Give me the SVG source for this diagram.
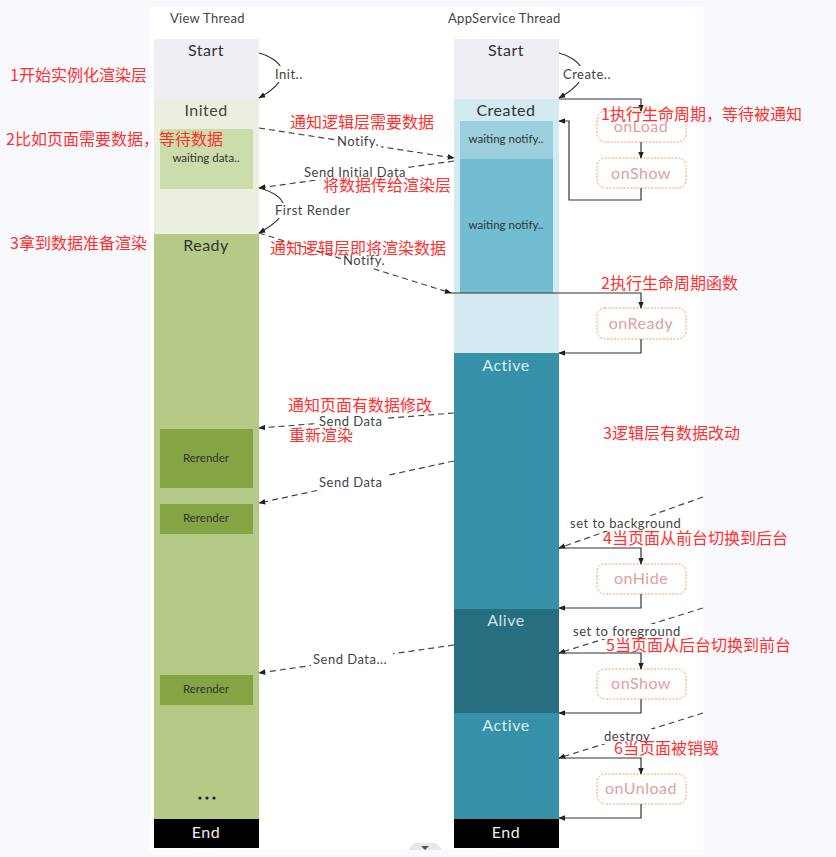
<svg xmlns="http://www.w3.org/2000/svg" width="836" height="857" viewBox="0 0 836 857">
  <defs>
    <marker id="arr" viewBox="0 0 10 10" refX="9" refY="5" markerWidth="7" markerHeight="7" orient="auto-start-reverse" markerUnits="userSpaceOnUse">
      <path d="M0,1 L10,5 L0,9 z" fill="#222"/>
    </marker>
    <style>
      .lbl { font-family: "Lato", "Open Sans", "DejaVu Sans", sans-serif; }
      .head { font-size: 13px; fill: #444; letter-spacing: 0.3px; }
      .state { font-size: 16px; text-anchor: middle; letter-spacing: 0.5px; }
      .small { font-size: 11.5px; text-anchor: middle; fill: #333; }
      .edge { font-size: 13px; fill: #444; letter-spacing: 0.5px; }
      .life rect { fill: #fff; stroke: #f0a060; stroke-width: 1; stroke-dasharray: 2 1.5; }
      .life text { font-size: 16px; text-anchor: middle; fill: #e0a0a0; letter-spacing: 0.5px; }
      .solid { fill: none; stroke: #333; stroke-width: 1.2; }
      .dash { fill: none; stroke: #444; stroke-width: 1.2; stroke-dasharray: 6 4; }
      .note { font-family: "Noto Sans CJK SC", "Noto Sans", sans-serif; font-size: 16px; fill: #ff3030; }
    </style>
  </defs>

  <!-- page background and sheet -->
  <rect x="0" y="0" width="836" height="857" fill="#f8f9fd"/>
  <rect x="150" y="7" width="553" height="843" fill="#ffffff"/>
  <path d="M408,850 L414,843 L436,843 L442,850 z" fill="#e8e9ee"/>
  <path d="M421,846 L429,846 L425,850 z" fill="#555"/>

  <text class="lbl head" x="170" y="23">View Thread</text>
  <text class="lbl head" x="448" y="23">AppService Thread</text>

  <!-- View thread lane -->
  <g id="view-start"><rect x="154" y="39" width="105" height="60" fill="#efeef4"/><text class="lbl state" x="206" y="56" fill="#333">Start</text></g>
  <g id="view-inited"><rect x="154" y="99" width="105" height="135" fill="#ebefdf"/><text class="lbl state" x="206" y="116" fill="#444">Inited</text></g>
  <g id="view-waiting"><rect x="160" y="129" width="93" height="60" fill="#ccdcaa"/><text class="lbl small" x="206" y="162">waiting data..</text></g>
  <g id="view-ready"><rect x="154" y="234" width="105" height="585" fill="#b5ca87"/><text class="lbl state" x="206" y="251" fill="#333">Ready</text></g>
  <g id="rerender-1"><rect x="160" y="429" width="93" height="59" fill="#85a444"/><text class="lbl small" x="206" y="462">Rerender</text></g>
  <g id="rerender-2"><rect x="160" y="504" width="93" height="30" fill="#85a444"/><text class="lbl small" x="206" y="522">Rerender</text></g>
  <g id="rerender-3"><rect x="160" y="675" width="93" height="30" fill="#85a444"/><text class="lbl small" x="206" y="693">Rerender</text></g>
  <g id="view-more"><circle cx="200" cy="798" r="1.6" fill="#222"/><circle cx="207" cy="798" r="1.6" fill="#222"/><circle cx="214" cy="798" r="1.6" fill="#222"/></g>
  <g id="view-end"><rect x="154" y="819" width="105" height="29" fill="#000"/><text class="lbl state" x="206" y="838" fill="#eee">End</text></g>

  <!-- AppService thread lane -->
  <g id="app-start"><rect x="454" y="39" width="105" height="60" fill="#efeef4"/><text class="lbl state" x="506" y="56" fill="#333">Start</text></g>
  <g id="app-created"><rect x="454" y="99" width="105" height="254" fill="#d2eaf0"/><text class="lbl state" x="506" y="116" fill="#333">Created</text></g>
  <g id="app-wait-1"><rect x="460" y="121" width="93" height="38" fill="#9ccfdd"/><text class="lbl small" x="506" y="143">waiting notify..</text></g>
  <g id="app-wait-2"><rect x="460" y="159" width="93" height="134" fill="#72bdd2"/><text class="lbl small" x="506" y="229">waiting notify..</text></g>
  <g id="app-active-1"><rect x="454" y="353" width="105" height="256" fill="#3690a8"/><text class="lbl state" x="506" y="371" fill="#d8eef3">Active</text></g>
  <g id="app-alive"><rect x="454" y="609" width="105" height="104" fill="#276e80"/><text class="lbl state" x="506" y="626" fill="#cfe3e8">Alive</text></g>
  <g id="app-active-2"><rect x="454" y="713" width="105" height="106" fill="#3690a8"/><text class="lbl state" x="506" y="731" fill="#d8eef3">Active</text></g>
  <g id="app-end"><rect x="454" y="819" width="105" height="29" fill="#000"/><text class="lbl state" x="506" y="838" fill="#eee">End</text></g>

  <!-- lifecycle callbacks -->
  <g id="on-load" class="life lbl"><rect x="597" y="111" width="89" height="31" rx="8"/><text x="641" y="132">onLoad</text></g>
  <g id="on-show" class="life lbl"><rect x="597" y="158" width="89" height="30" rx="8"/><text x="641" y="179">onShow</text></g>
  <g id="on-ready" class="life lbl"><rect x="597" y="308" width="89" height="31" rx="8"/><text x="641" y="329">onReady</text></g>
  <g id="on-hide" class="life lbl"><rect x="597" y="564" width="89" height="30" rx="8"/><text x="641" y="584">onHide</text></g>
  <g id="on-show-2" class="life lbl"><rect x="597" y="669" width="89" height="30" rx="8"/><text x="641" y="689">onShow</text></g>
  <g id="on-unload" class="life lbl"><rect x="597" y="774" width="89" height="30" rx="8"/><text x="641" y="794">onUnload</text></g>

  <!-- connectors -->
  <g id="connectors">
    <path class="solid" d="M259,53 C278,58 300,75 259,98" marker-end="url(#arr)"/>
    <path class="solid" d="M559,53 C578,58 600,75 559,98" marker-end="url(#arr)"/>
    <path class="solid" d="M559,99 H641 V111" marker-end="url(#arr)"/>
    <path class="solid" d="M641,142 V158" marker-end="url(#arr)"/>
    <path class="solid" d="M641,188 V200 H569 V121 H559" marker-end="url(#arr)"/>
    <path class="dash" d="M259,128 L454,158" marker-end="url(#arr)"/>
    <path class="dash" d="M454,161 L259,188" marker-end="url(#arr)"/>
    <path class="solid" d="M259,188 C278,193 304,208 259,233" marker-end="url(#arr)"/>
    <path class="dash" d="M259,233 L451,293" marker-end="url(#arr)"/>
    <path class="solid" d="M451,293 H641 V308" marker-end="url(#arr)"/>
    <path class="solid" d="M641,339 V353 H559" marker-end="url(#arr)"/>
    <path class="dash" d="M454,413 L259,428" marker-end="url(#arr)"/>
    <path class="dash" d="M454,461 L259,503" marker-end="url(#arr)"/>
    <path class="dash" d="M703,497 L559,548" marker-end="url(#arr)"/>
    <path class="solid" d="M559,548 H641 V564" marker-end="url(#arr)"/>
    <path class="solid" d="M641,594 V608 H559" marker-end="url(#arr)"/>
    <path class="dash" d="M703,608 L559,653" marker-end="url(#arr)"/>
    <path class="solid" d="M559,653 H641 V669" marker-end="url(#arr)"/>
    <path class="solid" d="M641,699 V713 H559" marker-end="url(#arr)"/>
    <path class="dash" d="M454,645 L259,673" marker-end="url(#arr)"/>
    <path class="dash" d="M703,713 L559,758" marker-end="url(#arr)"/>
    <path class="solid" d="M559,758 H641 V774" marker-end="url(#arr)"/>
    <path class="solid" d="M641,804 V818 H559" marker-end="url(#arr)"/>

    <!-- connector labels, on a white backing -->
    <g class="lbl edge">
      <rect x="272" y="66" width="34" height="16" fill="#fff"/><text x="275" y="79">Init..</text>
      <rect x="561" y="66" width="60" height="16" fill="#fff"/><text x="563" y="79">Create..</text>
      <rect x="335" y="134" width="46" height="15" fill="#fff"/><text x="337" y="146">Notify.</text>
      <rect x="302" y="166" width="104" height="14" fill="#fff"/><text x="304" y="177">Send Initial Data</text>
      <rect x="273" y="203" width="78" height="15" fill="#fff"/><text x="275" y="215">First Render</text>
      <rect x="341" y="253" width="44" height="15" fill="#fff"/><text x="343" y="265">Notify.</text>
      <rect x="317" y="414" width="70" height="15" fill="#fff"/><text x="319" y="426">Send Data</text>
      <rect x="317" y="475" width="70" height="15" fill="#fff"/><text x="319" y="487">Send Data</text>
      <rect x="568" y="516" width="116" height="15" fill="#fff"/><text x="570" y="528">set to background</text>
      <rect x="571" y="624" width="112" height="15" fill="#fff"/><text x="573" y="636">set to foreground</text>
      <rect x="311" y="652" width="82" height="15" fill="#fff"/><text x="313" y="664">Send Data...</text>
      <rect x="602" y="729" width="50" height="15" fill="#fff"/><text x="604" y="741">destroy</text>
    </g>
  </g>

  <!-- annotations -->
  <g id="notes">
    <text class="note" x="10" y="81">1开始实例化渲染层</text>
    <text class="note" x="6" y="145">2比如页面需要数据，等待数据</text>
    <text class="note" x="10" y="249">3拿到数据准备渲染</text>
    <text class="note" x="290" y="128">通知逻辑层需要数据</text>
    <text class="note" x="323" y="191">将数据传给渲染层</text>
    <text class="note" x="270" y="254">通知逻辑层即将渲染数据</text>
    <text class="note" x="601" y="120">1执行生命周期，等待被通知</text>
    <text class="note" x="601" y="289">2执行生命周期函数</text>
    <text class="note" x="288" y="411">通知页面有数据修改</text>
    <text class="note" x="289" y="441">重新渲染</text>
    <text class="note" x="603" y="439">3逻辑层有数据改动</text>
    <text class="note" x="603" y="544">4当页面从前台切换到后台</text>
    <text class="note" x="606" y="651">5当页面从后台切换到前台</text>
    <text class="note" x="614" y="754">6当页面被销毁</text>
  </g>
</svg>
